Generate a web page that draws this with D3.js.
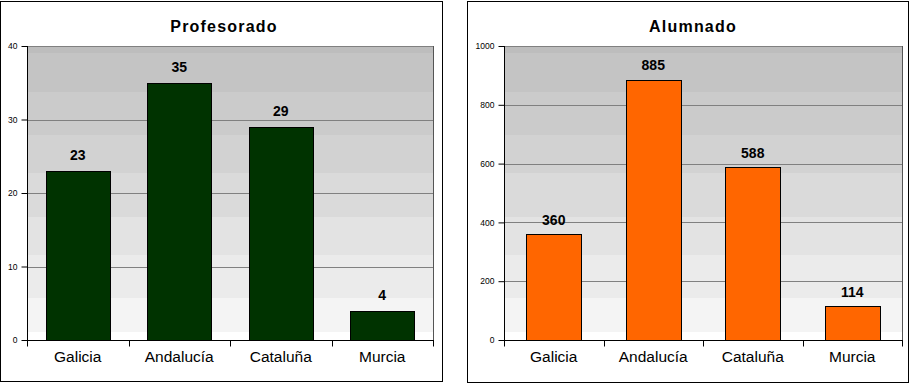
<!DOCTYPE html>
<html>
<head>
<meta charset="utf-8">
<script src="https://cdn.jsdelivr.net/npm/d3@7"></script>
<style>
  html, body { margin: 0; padding: 0; background: #fff; }
  svg { display: block; font-family: "Liberation Sans", Arial, sans-serif; }
</style>
</head>
<body>
<svg id="chart" width="911" height="383"></svg>
<script>
// ---- data ----
const categories = ["Galicia", "Andalucía", "Cataluña", "Murcia"];
const profesorado = [23, 35, 29, 4];
const alumnado = [360, 885, 588, 114];
const profTicks = [0, 10, 20, 30, 40];
const alumTicks = [0, 200, 400, 600, 800, 1000];
const titles = ["Profesorado", "Alumnado"];

const svg = d3.select("#chart");

// background band gradient (decorative)
const bandStops = [
  [0.000, "#bdbdbd"], [0.024, "#bdbdbd"],
  [0.024, "#c4c4c4"], [0.156, "#c4c4c4"],
  [0.156, "#cbcbcb"], [0.303, "#cbcbcb"],
  [0.303, "#d2d2d2"], [0.432, "#d2d2d2"],
  [0.432, "#dadada"], [0.582, "#dadada"],
  [0.582, "#e3e3e3"], [0.711, "#e3e3e3"],
  [0.711, "#ebebeb"], [0.857, "#ebebeb"],
  [0.857, "#f4f4f4"], [0.973, "#f4f4f4"],
  [0.973, "#ffffff"], [1.000, "#ffffff"]
];
const defs = svg.append("defs");
const grad = defs.append("linearGradient").attr("id", "bg").attr("x1", 0).attr("y1", 0).attr("x2", 0).attr("y2", 1);
bandStops.forEach(s => grad.append("stop").attr("offset", s[0]).attr("stop-color", s[1]));

function panel(cfg) {
  const g = svg.append("g");
  // frame
  g.append("rect")
    .attr("x", cfg.frame[0] + 0.5).attr("y", cfg.frame[1] + 0.5)
    .attr("width", cfg.frame[2] - cfg.frame[0]).attr("height", cfg.frame[3] - cfg.frame[1])
    .attr("fill", "#fff").attr("stroke", "#000").attr("stroke-width", 1);

  const x = d3.scaleBand().domain(categories).range([cfg.left, cfg.right])
    .paddingInner(cfg.pad).paddingOuter(cfg.pad / 2);
  const y = d3.scaleLinear().domain([0, d3.max(cfg.ticks)]).range([cfg.bottom, cfg.top]);

  // plot background
  g.append("rect")
    .attr("x", cfg.left).attr("y", cfg.top)
    .attr("width", cfg.right - cfg.left).attr("height", cfg.bottom - cfg.top)
    .attr("fill", "url(#bg)");

  // gridlines
  g.selectAll(".grid").data(cfg.ticks.filter(t => t > 0)).enter().append("line")
    .attr("x1", cfg.left).attr("x2", cfg.right)
    .attr("y1", d => Math.round(y(d)) + 0.5).attr("y2", d => Math.round(y(d)) + 0.5)
    .attr("stroke", "#808080").attr("stroke-width", 1);

  // right border of plot area
  g.append("line")
    .attr("x1", cfg.right + 0.5).attr("x2", cfg.right + 0.5)
    .attr("y1", cfg.top).attr("y2", cfg.bottom)
    .attr("stroke", "#555").attr("stroke-width", 1);

  // bars
  g.selectAll(".bar").data(cfg.values).enter().append("rect")
    .attr("x", (d, i) => Math.round(x(categories[i])) + 0.5)
    .attr("y", d => Math.round(y(d)) + 0.5)
    .attr("width", Math.round(x.bandwidth()))
    .attr("height", d => Math.round(cfg.bottom) - Math.round(y(d)))
    .attr("fill", cfg.color).attr("stroke", "#000").attr("stroke-width", 1);

  // value labels
  g.selectAll(".val").data(cfg.values).enter().append("text")
    .attr("x", (d, i) => x(categories[i]) + x.bandwidth() / 2)
    .attr("y", d => y(d) - cfg.labelGap)
    .attr("text-anchor", "middle")
    .attr("font-size", "14px").attr("font-weight", "bold").attr("fill", "#000")
    .text(d => d);

  // y axis
  const yAxis = d3.axisLeft(y).tickValues(cfg.ticks).tickSize(6).tickPadding(4).tickFormat(d3.format("d"));
  const ya = g.append("g").attr("transform", `translate(${cfg.left + 0.5},0)`).call(yAxis);
  ya.selectAll("text").attr("font-size", "8.5px").attr("fill", "#000").attr("font-family", "Liberation Sans, Arial, sans-serif");
  ya.selectAll("line, path").attr("stroke", "#000");
  ya.select(".domain").attr("d", `M0,${cfg.top}V${cfg.bottom + 0.5}`);

  // x axis
  const xa = g.append("g").attr("transform", `translate(0,${cfg.bottom + 0.5})`);
  xa.append("line").attr("x1", cfg.left).attr("x2", cfg.right + 1).attr("y1", 0).attr("y2", 0).attr("stroke", "#000");
  const bounds = categories.map(c => x(c) - x.step() * x.paddingInner() / 2).concat([cfg.right]);
  xa.selectAll(".xt").data(bounds).enter().append("line")
    .attr("x1", d => Math.round(d) + 0.5).attr("x2", d => Math.round(d) + 0.5)
    .attr("y1", 0).attr("y2", 6).attr("stroke", "#000");
  xa.selectAll(".xl").data(categories).enter().append("text")
    .attr("x", d => x(d) + x.bandwidth() / 2)
    .attr("y", 21.5)
    .attr("text-anchor", "middle")
    .attr("font-size", "15.5px").attr("fill", "#000")
    .text(d => d);

  // title
  g.append("text")
    .attr("x", cfg.titleX).attr("y", 31.5)
    .attr("text-anchor", "middle")
    .attr("font-size", "16px").attr("font-weight", "bold")
    .attr("letter-spacing", "1.2px")
    .text(cfg.title);
}

panel({
  frame: [0, 1, 442, 381], left: 27, right: 433, top: 46, bottom: 340,
  pad: 0.37, values: profesorado, ticks: profTicks, color: "#003300",
  labelGap: 11, title: titles[0], titleX: 224
});
panel({
  frame: [467, 1, 908, 382], left: 504, right: 902, top: 46, bottom: 340,
  pad: 0.447, values: alumnado, ticks: alumTicks, color: "#ff6600",
  labelGap: 9.5, title: titles[1], titleX: 693
});
</script>
</body>
</html>
